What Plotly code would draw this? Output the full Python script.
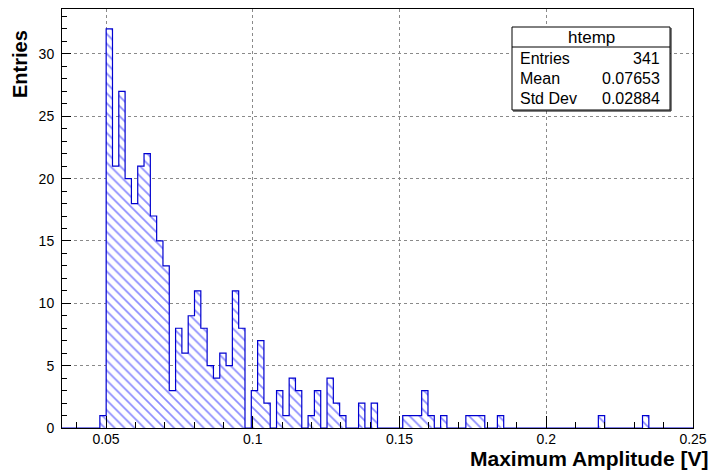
import numpy as np
import plotly.graph_objects as go

# ---- histogram "htemp": 100 equal bins on [x_min, x_max] ----
x_min, x_max, n_bins = 0.035, 0.25, 100
counts = [
    0, 0, 0, 0, 0, 0, 1, 32, 21, 27,
    20, 18, 21, 22, 17, 15, 13, 3, 8, 6,
    9, 11, 8, 5, 4, 6, 5, 11, 8, 0,
    3, 7, 2, 0, 3, 1, 4, 3, 0, 1,
    3, 0, 4, 2, 1, 0, 0, 2, 0, 2,
    0, 0, 0, 0, 1, 1, 1, 3, 1, 0,
    1, 0, 0, 0, 1, 1, 1, 0, 0, 1,
    0, 0, 0, 0, 0, 0, 0, 0, 0, 0,
    0, 0, 0, 0, 0, 1, 0, 0, 0, 0,
    0, 0, 1, 0, 0, 0, 0, 0, 0, 0,
]
y_max = 33.6

# statistics box
stat_title = "htemp"
stat_names = ["Entries", "Mean", "Std Dev"]
stat_values = ["341", "0.07653", "0.02884"]

x_title = "Maximum Amplitude [V]"
y_title = "Entries"

# ---- geometry of the frame (pixels) ----
W, H = 712, 470
L, R, T, B = 62, 693, 9, 428


def fx(px):
    return (px - L) / (R - L)


def fy(py):
    return (B - py) / (B - T)


edges = np.linspace(x_min, x_max, n_bins + 1)
centers = 0.5 * (edges[:-1] + edges[1:])
width = edges[1] - edges[0]

HATCH = "#1a1aff"
OUTLINE = "#0000d0"
FONT = "Liberation Sans, Arial, Helvetica, sans-serif"

fig = go.Figure()

# hatched fill of the bins
fig.add_trace(go.Bar(
    x=centers, y=counts, width=width,
    marker=dict(
        color="rgba(0,0,0,0)",
        line=dict(width=0),
        pattern=dict(shape="\\", fgcolor=HATCH, bgcolor="white",
                     size=7, solidity=0.24),
    ),
    hoverinfo="skip",
))

# histogram contour as a step line
step_x = [edges[0]] + list(edges[:-1]) + [edges[-1]]
step_y = [0] + list(counts) + [0]
fig.add_trace(go.Scatter(
    x=step_x, y=step_y, mode="lines",
    line=dict(shape="hv", color=OUTLINE, width=1.2),
    hoverinfo="skip",
))

grid = dict(showgrid=True, gridcolor="#8a8a8a", griddash="dot", gridwidth=1)

fig.update_xaxes(
    range=[x_min, x_max], showline=True, linecolor="black", linewidth=1,
    mirror=True, ticks="inside", ticklen=12, tickwidth=1, tickcolor="black",
    tick0=0, dtick=0.05, zeroline=False, ticklabelstandoff=-2,
    tickfont=dict(family=FONT, size=14, color="black"),
    minor=dict(dtick=0.01, ticks="inside", ticklen=6, tickcolor="black",
               showgrid=False),
    **grid,
)
fig.update_yaxes(
    range=[0, y_max], showline=True, linecolor="black", linewidth=1,
    mirror=True, ticks="inside", ticklen=9, tickwidth=1, tickcolor="black",
    tick0=0, dtick=5, zeroline=False, ticklabelstandoff=4,
    tickfont=dict(family=FONT, size=14, color="black"),
    minor=dict(dtick=1, ticks="inside", ticklen=5, tickcolor="black",
               showgrid=False),
    **grid,
)

# axis titles
annotations = [
    dict(text=f"<b>{x_title}</b>", xref="paper", yref="paper",
         x=fx(710), y=fy(458), xanchor="right", yanchor="middle",
         showarrow=False, font=dict(family=FONT, size=21, color="black")),
    dict(text=f"<b>{y_title}</b>", xref="paper", yref="paper",
         x=fx(20), y=fy(64), xanchor="center", yanchor="middle",
         textangle=-90, showarrow=False,
         font=dict(family=FONT, size=20, color="black")),
]

# statistics box
bx0, bx1, by0, by1, bsep = 512, 670, 27, 110, 47
shapes = [
    dict(type="rect", xref="paper", yref="paper",
         x0=fx(bx0), x1=fx(bx1), y0=fy(by1), y1=fy(by0),
         line=dict(color="black", width=1), fillcolor="white", layer="above"),
    dict(type="line", xref="paper", yref="paper",
         x0=fx(bx0), x1=fx(bx1), y0=fy(bsep), y1=fy(bsep),
         line=dict(color="black", width=1), layer="above"),
    dict(type="line", xref="paper", yref="paper",
         x0=fx(bx0 + 1), x1=fx(bx1 + 1), y0=fy(by1 + 1), y1=fy(by1 + 1),
         line=dict(color="black", width=1), layer="above"),
    dict(type="line", xref="paper", yref="paper",
         x0=fx(bx1 + 1), x1=fx(bx1 + 1), y0=fy(by1 + 1), y1=fy(by0 + 1),
         line=dict(color="black", width=1), layer="above"),
]
annotations.append(dict(
    text=stat_title, xref="paper", yref="paper",
    x=fx((bx0 + bx1) / 2), y=fy(37), xanchor="center", yanchor="middle",
    showarrow=False, font=dict(family=FONT, size=17, color="black")))
for i, (name, val) in enumerate(zip(stat_names, stat_values)):
    yy = fy(58.5 + 20 * i)
    annotations.append(dict(
        text=name, xref="paper", yref="paper", x=fx(518), y=yy,
        xanchor="left", yanchor="middle", showarrow=False,
        font=dict(family=FONT, size=16, color="black")))
    annotations.append(dict(
        text=val, xref="paper", yref="paper", x=fx(662), y=yy,
        xanchor="right", yanchor="middle", showarrow=False,
        font=dict(family=FONT, size=16, color="black")))

fig.update_layout(
    width=W, height=H,
    margin=dict(l=L, r=W - R, t=T, b=H - B, pad=0, autoexpand=False),
    plot_bgcolor="white", paper_bgcolor="white",
    showlegend=False, bargap=0, barmode="overlay",
    font=dict(family=FONT, size=14, color="black"),
    annotations=annotations, shapes=shapes,
)

fig.write_html("out.html")
